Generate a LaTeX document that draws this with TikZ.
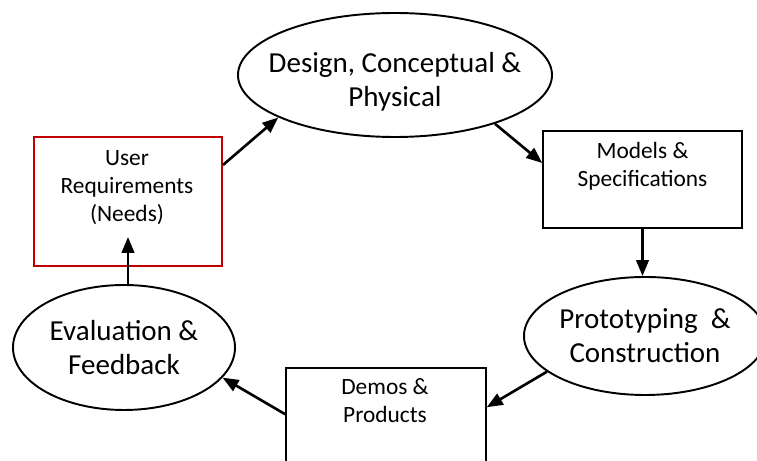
\documentclass[tikz,border=0pt]{standalone}
\usepackage{fontspec}
\setmainfont{Carlito}
\usetikzlibrary{shapes.geometric,arrows.meta}
\definecolor{needred}{RGB}{192,0,0}
\tikzset{
  bigtext/.style={align=center,inner sep=0pt,font=\fontsize{16.5}{19.5}\selectfont},
  phase/.style={ellipse,draw,line width=1.1pt,bigtext},
  item/.style={rectangle,draw,line width=0.85pt,inner sep=0pt},
  itemtext/.style={align=center,font=\fontsize{13.3}{16}\selectfont},
  flow/.style={-{Triangle[length=0.32cm,width=0.25cm]},line width=1.5pt}
}
\begin{document}
\begin{tikzpicture}
\useasboundingbox (0,0) rectangle (15.14,-9.22);
\clip (0,0) rectangle (15.14,-9.22);
\node[phase,minimum width=6.28cm,minimum height=2.48cm] (D) at (7.9,-1.5) {};
\node[bigtext] (Dt) at (7.9,-1.64) {Design, Conceptual \&\\Physical};
\node[phase,minimum width=4.4cm,minimum height=2.36cm] (P) at (12.9,-6.72) {Prototyping \ \&\\Construction};
\node[phase,minimum width=4.44cm,minimum height=2.5cm] (E) at (2.48,-6.95) {Evaluation \&\\Feedback};
\node[item,draw=needred,line width=1.1pt,minimum width=3.76cm,minimum height=2.58cm] (U) at (2.56,-4.03) {};
\node[itemtext] (Ut) at (2.54,-3.75) {User\\Requirements\\(Needs)};
\node[item,minimum width=3.98cm,minimum height=1.94cm] (M) at (12.85,-3.59) {};
\node[itemtext] (Mt) at (12.85,-3.32) {Models \&\\Specifications};
\node[item,minimum width=4cm,minimum height=3.04cm] (Dm) at (7.72,-8.88) {};
\node[itemtext] (Dmt) at (7.7,-8.01) {Demos \&\\Products};
\path
  (E.north -| U.south) edge [flow] ([yshift=0.6cm]U.south)
  ([yshift=0.73cm]U.east) edge [flow] (D.200)
  (D.334) edge [flow] ([yshift=0.33cm]M.west)
  (M.south) edge [flow] (M.south |- P.north)
  (P.200) edge [flow] ([yshift=-0.8cm]Dm.north east)
  ([yshift=-0.94cm]Dm.north west) edge [flow] (E.343)
;
\end{tikzpicture}
\end{document}
